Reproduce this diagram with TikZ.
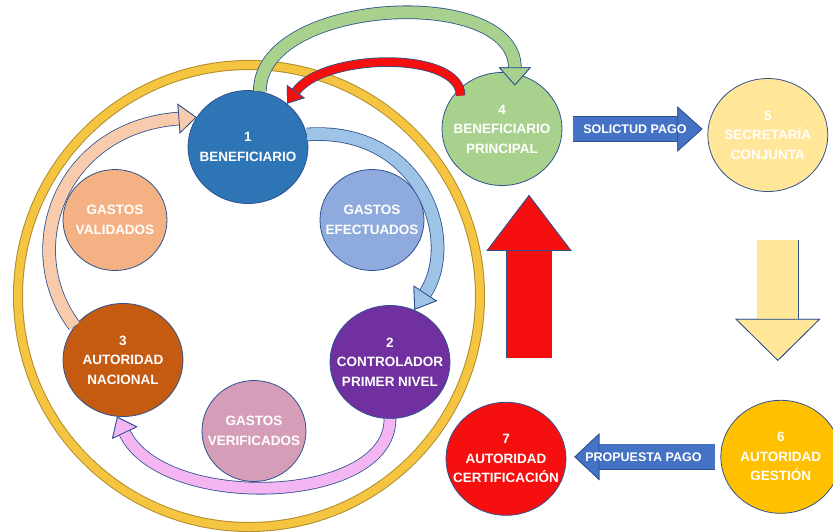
\documentclass[tikz,border=0pt]{standalone}
\usepackage{fontspec}
\setmainfont{Liberation Sans}
\usepackage{tikz}
\usetikzlibrary{shapes.geometric, arrows.meta, positioning, calc}
\definecolor{benefblue}{HTML}{2E75B6}
\definecolor{efectblue}{HTML}{8FAADC}
\definecolor{ctrlpurple}{HTML}{7030A0}
\definecolor{verifpink}{HTML}{D69DB8}
\definecolor{nacorange}{HTML}{C55A11}
\definecolor{validpeach}{HTML}{F4B183}
\definecolor{peacharc}{HTML}{F8CBAD}
\definecolor{princgreen}{HTML}{A9D18E}
\definecolor{secyellow}{HTML}{FFE699}
\definecolor{gestamber}{HTML}{FFC000}
\definecolor{certred}{HTML}{F50F0F}
\definecolor{flowblue}{HTML}{9DC3E6}
\definecolor{lilac}{HTML}{F4B6F2}
\definecolor{arrowblue}{HTML}{4472C4}
\definecolor{edgeblue}{HTML}{2F528F}
\definecolor{ringgold}{HTML}{F5C542}
\definecolor{ringedge}{HTML}{B08D2A}

\begin{document}
\begin{tikzpicture}[
        x=1pt, y=-1pt,
        station/.style={ellipse, draw=edgeblue, line width=0.8pt, fill=#1, text=white, font=\fontsize{13.5}{19.5}\selectfont\bfseries, align=center, inner sep=-14pt, minimum width=120pt, minimum height=113pt},
        gasto/.style={station=#1, minimum width=104pt, minimum height=101pt},
        blockarrow/.style n args={4}{draw=#1, line width=#2, -{Triangle[width=#3, length=#4, line width=0.8pt, color=edgeblue, fill=#1]}, preaction={draw=edgeblue, line width=#2+1.6pt}},
        tag/.style={text=white, font=\fontsize{12.5}{13}\selectfont\bfseries},
        ring/.style={draw=ringgold, line width=8pt, preaction={draw=ringedge, line width=10pt}}
    ]
        \useasboundingbox (0,0) rectangle (833,531);
        \draw [ring] (249,296) circle [radius=231];

        \node (benef) [station=benefblue] at (248,147) {1\\BENEFICIARIO};
        \node (efect) [gasto=efectblue] at (372,220) {GASTOS\\EFECTUADOS};
        \node (ctrl) [station=ctrlpurple] at (390,362) {2\\CONTROLADOR\\PRIMER NIVEL};
        \node (verif) [gasto=verifpink] at (254,431) {GASTOS\\VERIFICADOS};
        \node (nacional) [station=nacorange] at (123,360) {3\\AUTORIDAD\\NACIONAL};
        \node (valid) [gasto=validpeach] at (115,220) {GASTOS\\VALIDADOS};
        \node (principal) [station=princgreen] at (502,129) {4\\BENEFICIARIO\\PRINCIPAL};
        \node (secret) [station=secyellow, right=145pt of principal, yshift=-6pt] {5\\SECRETARÍA\\CONJUNTA};
        \node (gestion) [station=gestamber, below=208pt of secret, xshift=13pt] {6\\AUTORIDAD\\GESTIÓN};
        \node (certif) [station=certred, left=154pt of gestion, yshift=-2pt] {7\\AUTORIDAD\\CERTIFICACIÓN};

        \draw [blockarrow={princgreen}{12pt}{32pt}{18pt}] (benef.78) .. controls +(0,-94) and +(0,-101) .. ([yshift=-12pt]principal.77);
        \draw [blockarrow={certred}{8pt}{22pt}{15pt}] ([yshift=-8pt]principal.135) .. controls +(0,-45) and +(37,-51) .. (benef.48);
        \draw [blockarrow={flowblue}{12pt}{28pt}{20pt}] (benef.12) .. controls +(114,-8) and +(46,-70) .. (ctrl.65);
        \draw [blockarrow={lilac}{11pt}{28pt}{18pt}] (ctrl.270) .. controls +(0,87) and +(45,95) .. (nacional.264);
        \draw [blockarrow={peacharc}{12pt}{30pt}{18pt}] (nacional.145) .. controls +(-58,-77) and +(-136,10) .. (benef.150);

        \draw [blockarrow={arrowblue}{24pt}{45pt}{25pt}, shorten <=11pt, shorten >=5pt] (principal.east) -- (secret.west |- principal.east) node [tag, midway] {SOLICTUD PAGO};
        \draw [blockarrow={arrowblue}{25pt}{47pt}{25pt}, shorten <=5pt, shorten >=8pt] (gestion.west) -- (certif.east |- gestion.west) node [tag, midway] {PROPUESTA PAGO};

        \coordinate (redtail) at ([xshift=23pt, yshift=44pt]certif.north);
        \coordinate (yeltail) at ([xshift=10pt, yshift=-48pt]secret.south);
        \draw [blockarrow={certred}{45pt}{85pt}{56pt}, shorten >=9pt] (redtail) -- (redtail |- principal.south);
        \draw [blockarrow={secyellow}{41pt}{85pt}{42pt}, shorten >=39pt] (yeltail) -- (yeltail |- gestion.north);
    \end{tikzpicture}
\end{document}
